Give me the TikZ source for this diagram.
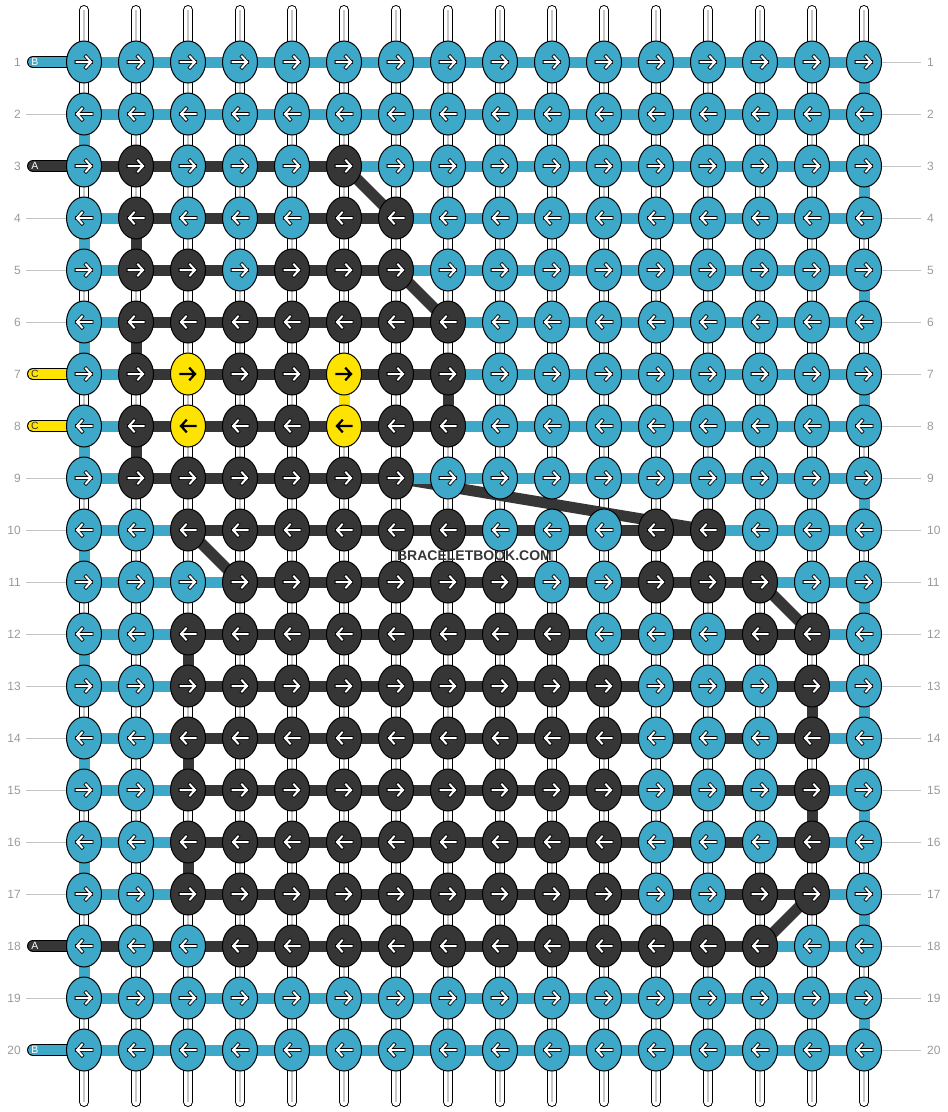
\documentclass[tikz,border=0pt]{standalone}
\usepackage{fontspec}
\setmainfont{Liberation Sans}
\usetikzlibrary{shapes.geometric}

\definecolor{strblue}{HTML}{3DA8C8}
\definecolor{strdark}{HTML}{363636}
\definecolor{stryellow}{HTML}{FFE300}
\definecolor{numgray}{HTML}{9A9A9A}
\definecolor{linegray}{HTML}{C4C4C4}

\pgfdeclarelayer{warp}
\pgfdeclarelayer{seg}
\pgfsetlayers{warp,seg,main}

\tikzset{
  knot/.style={ellipse, draw=black, line width=1pt, minimum width=35pt, minimum height=42pt, inner sep=0pt},
  kb/.style={knot, fill=strblue},
  kd/.style={knot, fill=strdark},
  ky/.style={knot, fill=stryellow},
  arwb/.style={draw=white, line width=2pt, line cap=rect, preaction={draw=black, line width=3.6pt, line cap=rect}},
  arwd/.style={arwb},
  arwy/.style={draw=black, line width=2.2pt, line cap=rect},
  strand/.style={line width=11pt, line cap=butt},
  rowno/.style={text=numgray, font=\fontsize{12}{12}\selectfont, inner sep=0pt},
  rowline/.style={draw=linegray, line width=0.9pt},
  pilltxt/.style={font=\fontsize{10.5}{10.5}\selectfont, inner sep=0pt},
}

\begin{document}
\begin{tikzpicture}[x=1pt, y=-1pt]
  \useasboundingbox (0,0) rectangle (948,1112);

  % knots, row by row
  \foreach \r/\cl in {
    1/{b,b,b,b,b,b,b,b,b,b,b,b,b,b,b,b},
    2/{b,b,b,b,b,b,b,b,b,b,b,b,b,b,b,b},
    3/{b,d,b,b,b,d,b,b,b,b,b,b,b,b,b,b},
    4/{b,d,b,b,b,d,d,b,b,b,b,b,b,b,b,b},
    5/{b,d,d,b,d,d,d,b,b,b,b,b,b,b,b,b},
    6/{b,d,d,d,d,d,d,d,b,b,b,b,b,b,b,b},
    7/{b,d,y,d,d,y,d,d,b,b,b,b,b,b,b,b},
    8/{b,d,y,d,d,y,d,d,b,b,b,b,b,b,b,b},
    9/{b,d,d,d,d,d,d,b,b,b,b,b,b,b,b,b},
    10/{b,b,d,d,d,d,d,d,b,b,b,d,d,b,b,b},
    11/{b,b,b,d,d,d,d,d,d,b,b,d,d,d,b,b},
    12/{b,b,d,d,d,d,d,d,d,d,b,b,b,d,d,b},
    13/{b,b,d,d,d,d,d,d,d,d,d,b,b,b,d,b},
    14/{b,b,d,d,d,d,d,d,d,d,d,b,b,b,d,b},
    15/{b,b,d,d,d,d,d,d,d,d,d,b,b,b,d,b},
    16/{b,b,d,d,d,d,d,d,d,d,d,b,b,b,d,b},
    17/{b,b,d,d,d,d,d,d,d,d,d,b,b,d,d,b},
    18/{b,b,b,d,d,d,d,d,d,d,d,d,d,d,b,b},
    19/{b,b,b,b,b,b,b,b,b,b,b,b,b,b,b,b},
    20/{b,b,b,b,b,b,b,b,b,b,b,b,b,b,b,b}}{
    \ifodd\r \def\dir{1}\else \def\dir{-1}\fi
    \foreach \k [count=\c] in \cl {
      \node[k\k] (k-\r-\c) at ({32+52*\c},{10+52*\r}) {};
      \draw[arw\k, shift={(k-\r-\c.center)}, xscale=\dir]
        (-7.5,0) -- (7,0) (2,-5.5) -- (7,0) -- (2,5.5);
    }
    \node[rowno, anchor=east] (nl-\r) at (21,{10+52*\r}) {\r};
    \node[rowno, anchor=west] (nr-\r) at (927,{10+52*\r}) {\r};
    \draw[rowline, shorten >=6pt] (k-\r-16) -- (nr-\r);
  }

  % row marks on the left where no string starts
  \foreach \r in {2,4,5,6,9,10,11,12,13,14,15,16,17,19}
    \draw[rowline, shorten <=5pt] (nl-\r) -- (k-\r-1);

  % white warp strings
  \begin{pgfonlayer}{warp}
    \foreach \c in {1,...,16} {
      \coordinate (wt-\c) at ({32+52*\c},10);
      \coordinate (wb-\c) at ({32+52*\c},1102);
      \draw[black, line width=10pt, line cap=round] (wt-\c) -- (wb-\c);
      \draw[white, line width=8pt, line cap=round] (wt-\c) -- (wb-\c);
      \draw[black!22, line width=1.3pt] (wt-\c) -- (wb-\c);
    }
  \end{pgfonlayer}

  \begin{pgfonlayer}{seg}
    % carried string A, crossing rows
    \foreach \ra/\ca/\rb/\cb in {3/6/4/7, 5/7/6/8, 9/7/10/13, 10/3/11/4, 11/14/12/15, 17/15/18/14}
      \draw[strand, strdark] (k-\ra-\ca.center) -- (k-\rb-\cb.center);
    % string B
    \foreach \r in {1,...,20}
      \draw[strand, strblue] (k-\r-1.center) -- (k-\r-16.center);
    \foreach \r [evaluate=\r as \s using int(\r+1)] in {2,4,...,18}
      \draw[strand, strblue] (k-\r-1.center) -- (k-\s-1.center);
    \foreach \r [evaluate=\r as \s using int(\r+1)] in {1,3,...,19}
      \draw[strand, strblue] (k-\r-16.center) -- (k-\s-16.center);
    % string A along the rows
    \foreach \r/\a/\b in {3/1/6, 4/2/7, 5/2/7, 6/2/8, 7/2/8, 8/2/8, 9/2/7, 10/3/13, 11/4/14,
                          12/3/15, 13/3/15, 14/3/15, 15/3/15, 16/3/15, 17/3/15, 18/1/14}
      \draw[strand, strdark] (k-\r-\a.center) -- (k-\r-\b.center);
    \foreach \ra/\rb/\c in {4/5/2, 6/7/2, 8/9/2, 7/8/8, 12/13/3, 14/15/3, 16/17/3, 13/14/15, 15/16/15}
      \draw[strand, strdark] (k-\ra-\c.center) -- (k-\rb-\c.center);
    % string C
    \draw[strand, stryellow] (k-7-6.center) -- (k-8-6.center);

    % loose ends on the left
    \foreach \r/\col/\txt/\lab in {1/strblue/white/B, 3/strdark/white/A, 7/stryellow/strdark/C,
                                   8/stryellow/strdark/C, 18/strdark/white/A, 20/strblue/white/B} {
      \coordinate (s-\r) at (33,{10+52*\r});
      \draw[black, line width=12pt, line cap=round] (s-\r) -- (k-\r-1.center);
      \draw[\col, line width=10pt, line cap=round] (s-\r) -- (k-\r-1.center);
      \node[pilltxt, text=\txt] (lab-\r) at (35,{10+52*\r}) {\lab};
    }
  \end{pgfonlayer}

  \node[font=\bfseries\fontsize{14}{14}\selectfont, text=strdark, inner sep=0pt] (wm) at (474.5,555.5) {BRACELETBOOK.COM};
\end{tikzpicture}
\end{document}
